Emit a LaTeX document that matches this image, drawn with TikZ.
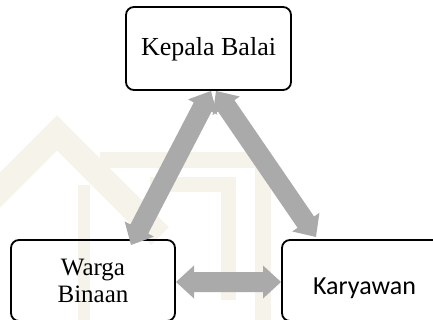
\documentclass[tikz,border=0pt]{standalone}
\usepackage{fontspec}
\setmainfont{Liberation Serif}
\newfontfamily\calibfont{Carlito}
\usetikzlibrary{calc}
\definecolor{argray}{RGB}{170,170,170}
\definecolor{wmcol}{RGB}{246,243,235}
\tikzset{
  box/.style={draw=black, line width=1.8pt, rounded corners=8pt, inner sep=0pt, align=center},
  wmband/.style={draw=wmcol, line width=#1},
}
\newcommand\dblarrow[2]{%
  \path let \p1=(#1), \p2=(#2) in \pgfextra{%
    \pgfmathsetmacro\tmpAng{atan2(\y2-\y1,\x2-\x1)}%
    \pgfmathsetmacro\tmpLen{veclen(\x2-\x1,\y2-\y1)}%
    \xdef\arAng{\tmpAng}\xdef\arLen{\tmpLen}};
  \begin{scope}[shift={(#1)}, rotate=\arAng]
    \fill[argray] (0,0) -- (18,16.5) -- (18,10) -- ({\arLen-18},10) -- ({\arLen-18},16.5)
      -- (\arLen,0) -- ({\arLen-18},-16.5) -- ({\arLen-18},-10) -- (18,-10) -- (18,-16.5) -- cycle;
  \end{scope}}
\begin{document}
\begin{tikzpicture}[x=1pt,y=-1pt]
\useasboundingbox (0,0) rectangle (433,320);
\clip (0,0) rectangle (433,320);
% watermark
\draw[wmband=25] (-30,220) -- (57,133) -- (160,236);
\draw[wmband=16] (100,160) -- (263,160) -- (263,330);
\draw[wmband=12] (84,185) -- (84,330);
\draw[wmband=15] (150,184.5) -- (228.5,184.5) -- (228.5,300);
% boxes
\node[box, minimum width=165pt, minimum height=83pt, font=\fontsize{26}{28}\selectfont] (kb) at (208.5,48.5) {\raisebox{-7.5pt}[0pt][0pt]{Kepala Balai}};
\node[box, minimum width=164pt, minimum height=81pt, font=\fontsize{25}{27}\selectfont] (wb) at (93,280.5) {Warga\\Binaan};
\node[box, minimum width=165pt, minimum height=81pt, font=\calibfont\fontsize{26}{28}\selectfont] (ky) at (364.5,280.5) {\raisebox{-14pt}[0pt][0pt]{Karyawan}};
% arrow ends
\coordinate (a1) at (131,245);
\coordinate (a2) at (211,91);
\coordinate (b1) at (216,91);
\coordinate (b2) at (316,237);
\coordinate (c1) at (176,282);
\coordinate (c2) at (281,282);
\dblarrow{a1}{a2}
\dblarrow{b1}{b2}
\dblarrow{c1}{c2}
\end{tikzpicture}
\end{document}
